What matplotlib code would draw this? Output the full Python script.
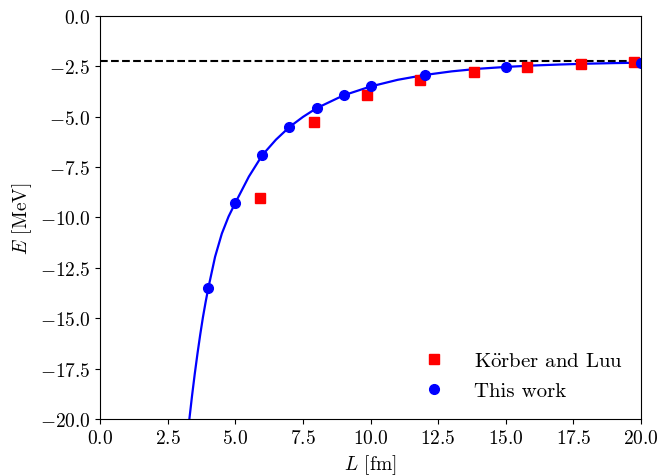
import numpy as np
import matplotlib.pyplot as plt

plt.rcParams['font.family'] = 'serif'
plt.rcParams['font.serif'] = ['cmr10', 'DejaVu Serif']
plt.rcParams['mathtext.fontset'] = 'cm'
plt.rcParams['axes.formatter.use_mathtext'] = True
plt.rcParams['font.size'] = 14

# this work: lattice results
L_this = [4, 5, 6, 7, 8, 9, 10, 12, 15, 20]
E_this = [-13.5, -9.27, -6.9, -5.51, -4.58, -3.94, -3.50, -2.93, -2.53, -2.32]

# Koerber and Luu
L_kl = [5.92, 7.9, 9.87, 11.84, 13.81, 15.79, 17.76, 19.74]
E_kl = [-9.05, -5.27, -3.94, -3.19, -2.77, -2.54, -2.38, -2.29]

# fitted curve
L_fit = [3.3, 3.4, 3.5, 3.6, 3.7, 3.8, 3.9, 4.0, 4.25, 4.5, 4.75, 5.0, 5.5,
         6.0, 6.5, 7.0, 7.5, 8.0, 9.0, 10.0, 11.0, 12.0, 13.0, 14.0, 15.0,
         16.0, 17.0, 18.0, 19.0, 20.0]
E_fit = [-20.0, -18.83, -17.75, -16.75, -15.82, -14.96, -14.20, -13.5, -11.95,
         -10.8, -9.95, -9.27, -7.97, -6.9, -6.14, -5.51, -5.01, -4.58, -3.94,
         -3.50, -3.17, -2.93, -2.75, -2.62, -2.53, -2.46, -2.41, -2.37, -2.34,
         -2.32]

E_inf = -2.224

fig = plt.figure(figsize=(6.63, 4.77), dpi=100)
ax = fig.add_axes([0.151, 0.1195, 0.816, 0.845])

ax.axhline(E_inf, color='black', ls='--', lw=1.5)
ax.plot(L_fit, E_fit, color='blue', lw=1.6)
ax.plot(L_kl, E_kl, 's', color='red', ms=7, label=r'K$\ddot{\mathrm{o}}$rber and Luu')
ax.plot(L_this, E_this, 'o', color='blue', ms=7, label='This work')

ax.set_xlim(0, 20)
ax.set_ylim(-20, 0)
ax.set_xlabel(r'$L$ [fm]')
ax.set_ylabel(r'$E$ [MeV]')
ax.legend(loc='lower right', frameon=False, fontsize=15, labelspacing=0.55,
          handletextpad=0.9, borderaxespad=0.5)

fig.savefig('out.png', dpi=100)
